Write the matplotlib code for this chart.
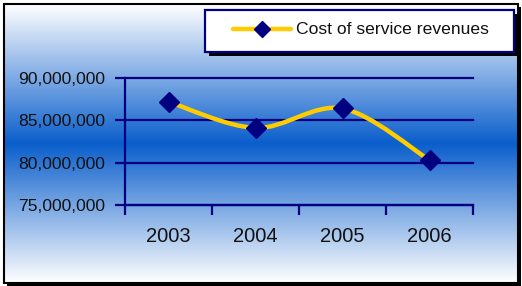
import numpy as np
import matplotlib
matplotlib.use("Agg")
import matplotlib.pyplot as plt
from matplotlib.path import Path
from matplotlib.patches import PathPatch, Rectangle
from matplotlib.lines import Line2D
from matplotlib.ticker import FuncFormatter

# data
years = ["2003", "2004", "2005", "2006"]
cost = [87200000, 84100000, 86400000, 80300000]
series_name = "Cost of service revenues"
y_ticks = [75000000, 80000000, 85000000, 90000000]

W, H = 522, 286
navy = "#000080"
gold = "#ffcc00"
txt = "#111111"

plt.rcParams['font.family'] = ['Liberation Sans', 'DejaVu Sans']

fig = plt.figure(figsize=(W / 100, H / 100), dpi=100)

# background layer in pixel coordinates
bg = fig.add_axes([0, 0, 1, 1], zorder=-1)
bg.axis('off')

# shadow of the outer frame
bg.add_patch(Rectangle((7, 7), 514, 279, facecolor='black', edgecolor='none', zorder=0))

# vertical gradient white -> blue -> white
t = np.linspace(0, 1, 300)
d = np.abs(t - 0.5) * 2
edge = np.array([1.0, 1.0, 1.0])
mid = np.array([0.04, 0.37, 0.80])
grad = mid + (edge - mid) * d[:, None]
bg.imshow(grad[:, None, :], extent=(4, 518, 283, 4), aspect='auto',
          interpolation='bilinear', zorder=1)
bg.add_patch(Rectangle((4, 4), 514, 279, facecolor='none', edgecolor='black', lw=1.5, zorder=2))

# legend box drawn by hand
bg.add_patch(Rectangle((208.5, 13.5), 309, 42, facecolor='black', edgecolor='none', zorder=3))
bg.add_patch(Rectangle((205, 10), 309, 42, facecolor='white', edgecolor=navy, lw=1.6, zorder=4))
bg.add_line(Line2D([233, 291], [29, 29], color=gold, lw=3.2, solid_capstyle='round', zorder=5))
bg.add_line(Line2D([262], [29], ls='none', marker='D', ms=8, mfc=navy, mec=navy, zorder=6))
bg.text(296, 30, series_name, fontsize=12.6, color=txt,
        va='center', ha='left', zorder=6)

bg.set_xlim(0, W)
bg.set_ylim(H, 0)

# main plot area
ax = fig.add_axes([125 / W, (H - 205) / H, 348 / W, 127 / H])
ax.patch.set_visible(False)
x = np.arange(len(years))
ax.set_xlim(-0.5, len(years) - 0.5)
ax.set_ylim(y_ticks[0], y_ticks[-1])
ax.set_yticks(y_ticks)
ax.yaxis.set_major_formatter(FuncFormatter(lambda v, p: f"{v:,.0f}"))
ax.grid(axis='y', color=navy, lw=1.6)
for g in ax.get_ygridlines():
    g.set_clip_on(False)
ax.set_xticks(x, years)
ax.set_xticks(np.arange(-0.5, len(years)), minor=True)
ax.tick_params(axis='x', which='major', length=0, pad=16, labelsize=14.5, labelcolor=txt)
ax.tick_params(axis='x', which='minor', length=7, width=1.6, color=navy, direction='out')
ax.tick_params(axis='y', length=7, width=1.6, color=navy, pad=7, labelsize=12.6, labelcolor=txt)
for s in ['top', 'right']:
    ax.spines[s].set_visible(False)
for s in ['left', 'bottom']:
    ax.spines[s].set_color(navy)
    ax.spines[s].set_linewidth(1.6)

# smoothed line (Catmull-Rom in screen space, like the spreadsheet)
pts = ax.transData.transform(np.column_stack([x, cost]))
verts = [pts[0]]
codes = [Path.MOVETO]
n = len(pts)
for i in range(n - 1):
    p0 = pts[max(i - 1, 0)]
    p1 = pts[i]
    p2 = pts[i + 1]
    p3 = pts[min(i + 2, n - 1)]
    verts += [p1 + (p2 - p0) / 6, p2 - (p3 - p1) / 6, p2]
    codes += [Path.CURVE4] * 3
verts = ax.transData.inverted().transform(np.array(verts))
ax.add_patch(PathPatch(Path(verts, codes), facecolor='none', edgecolor=gold, lw=3.2,
                       transform=ax.transData, clip_on=False, zorder=3))
ax.plot(x, cost, ls='none', marker='D', ms=10, mfc=navy, mec=navy, clip_on=False, zorder=4)

fig.savefig("out.png", dpi=100)
